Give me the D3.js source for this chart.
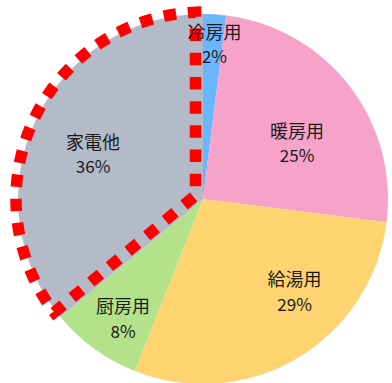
<!DOCTYPE html>
<html>
<head>
<meta charset="utf-8">
<script src="https://cdn.jsdelivr.net/npm/d3@7/dist/d3.min.js"></script>
<style>
  html, body { margin: 0; padding: 0; background: #ffffff; }
  svg { display: block; }
  text { font-family: "Noto Sans CJK JP", "Noto Sans", sans-serif; }
</style>
</head>
<body>
<svg id="chart" width="392" height="383"></svg>
<script>
// Household energy use by purpose (percent share)
const categories = ["冷房用", "暖房用", "給湯用", "厨房用", "家電他"];
const shares = [2, 25, 29, 8, 36];
const sliceColors = ["#6cb6ff", "#f6a2c9", "#ffd470", "#b3e28b", "#b4bbc8"];
const highlighted = "家電他";

const cx = 203, cy = 199, R = 185;

const svg = d3.select("#chart");
const g = svg.append("g").attr("transform", `translate(${cx},${cy})`);

const data = categories.map((c, i) => ({ category: c, value: shares[i], color: sliceColors[i] }));

const pie = d3.pie().sort(null).value(d => d.value);
const arcs = pie(data);
const arc = d3.arc().innerRadius(0).outerRadius(R);

g.selectAll("path.slice")
  .data(arcs)
  .join("path")
  .attr("class", "slice")
  .attr("d", arc)
  .attr("fill", d => d.data.color);

// Dotted red outline around the highlighted slice
const hl = arcs.find(d => d.data.category === highlighted);
const inset = 7.5, R2 = R + 2;
const unitDir = t => [Math.sin(t), -Math.cos(t)];
const unitNorm = t => [Math.cos(t), Math.sin(t)];
const s0 = hl.startAngle, s1 = hl.endAngle;
// lower edge line (offset toward the slice interior)
const P1 = [inset * unitNorm(s0)[0], inset * unitNorm(s0)[1]], d1 = unitDir(s0);
// upper edge line
const P2 = [-inset * unitNorm(s1)[0], -inset * unitNorm(s1)[1]], d2 = unitDir(s1);
function intersect(P, d, Q, f) {
  const den = d[0] * f[1] - d[1] * f[0];
  const t = ((Q[0] - P[0]) * f[1] - (Q[1] - P[1]) * f[0]) / den;
  return [P[0] + t * d[0], P[1] + t * d[1]];
}
function toCircle(P, d, r) {
  const pu = P[0] * d[0] + P[1] * d[1];
  const pp = P[0] * P[0] + P[1] * P[1];
  const t = -pu + Math.sqrt(pu * pu - pp + r * r);
  return [P[0] + t * d[0], P[1] + t * d[1]];
}
const corner = intersect(P1, d1, P2, d2);
const upperEnd = toCircle(corner, d2, R2);
const lowerEnd = toCircle(corner, d1, R2);
const large = (s1 - s0) > Math.PI ? 1 : 0;
const outline = `M${corner[0]},${corner[1]} L${upperEnd[0]},${upperEnd[1]} ` +
  `A${R2},${R2} 0 ${large} 0 ${lowerEnd[0]},${lowerEnd[1]} Z`;

g.append("path")
  .attr("d", outline)
  .attr("fill", "none")
  .attr("stroke", "#ff0000")
  .attr("stroke-width", 11.5)
  .attr("stroke-dasharray", "12.5 11.7")
  .attr("stroke-dashoffset", 15)
  .attr("stroke-linejoin", "miter");

// Label placement: shift from the slice's mid angle (deg) and radius as a fraction of R
const labelAt = {
  "冷房用": [0.6, 0.845],
  "暖房用": [6.8, 0.593],
  "給湯用": [-14.4, 0.70],
  "厨房用": [-2.0, 0.773],
  "家電他": [-2.7, 0.643]
};

const labels = g.selectAll("g.label")
  .data(arcs)
  .join("g")
  .attr("class", "label")
  .attr("transform", d => {
    const [shift, frac] = labelAt[d.data.category];
    const a = (d.startAngle + d.endAngle) / 2 + shift * Math.PI / 180;
    const r = frac * R;
    return `translate(${r * Math.sin(a)},${-r * Math.cos(a)})`;
  });

labels.append("text")
  .attr("text-anchor", "middle")
  .attr("dominant-baseline", "central")
  .attr("y", -12.5)
  .attr("font-size", 18)
  .attr("fill", "#1a1a1a")
  .text(d => d.data.category);

labels.append("text")
  .attr("text-anchor", "middle")
  .attr("dominant-baseline", "central")
  .attr("y", 12.5)
  .attr("font-size", 17)
  .attr("fill", "#1a1a1a")
  .text(d => d.data.value + "%");
</script>
</body>
</html>
